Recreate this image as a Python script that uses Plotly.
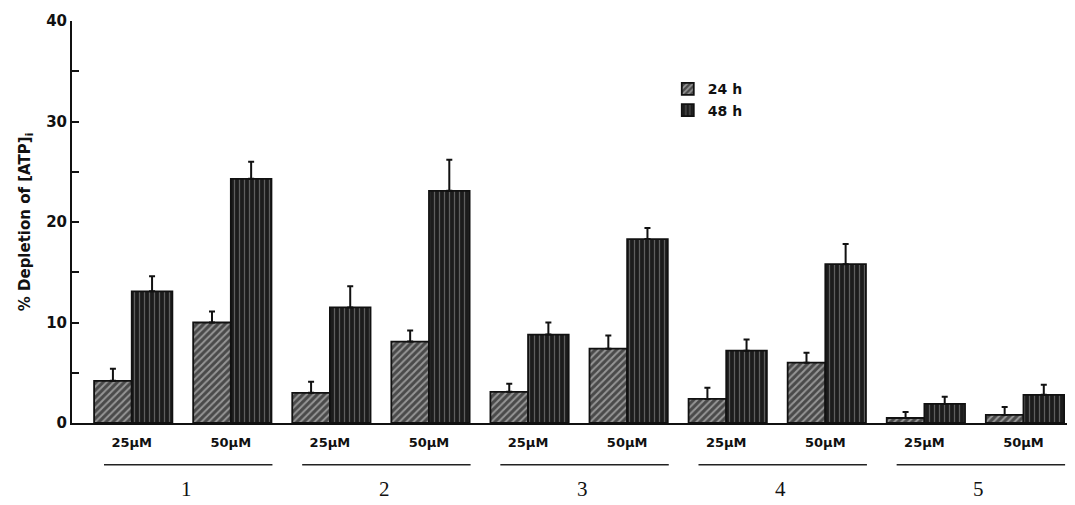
import plotly.graph_objects as go

# ---- data ----
compounds = ["1", "2", "3", "4", "5"]
concentrations = ["25\u00b5M", "50\u00b5M"]
# one value per (compound, concentration) pair, in order 1-25,1-50,2-25,...
atp_24h = [4.2, 10.0, 3.0, 8.1, 3.1, 7.4, 2.4, 6.0, 0.5, 0.8]
err_24h = [1.2, 1.1, 1.1, 1.1, 0.8, 1.3, 1.1, 1.0, 0.6, 0.8]
atp_48h = [13.1, 24.3, 11.5, 23.1, 8.8, 18.3, 7.2, 15.8, 1.9, 2.8]
err_48h = [1.5, 1.7, 2.1, 3.1, 1.2, 1.1, 1.1, 2.0, 0.7, 1.0]
series_names = ["24 h", "48 h"]

# positions of each pair (index based)
pos = list(range(len(atp_24h)))
tick_text = [concentrations[i % 2] for i in pos]

bar_w = 0.38

fig = go.Figure()
fig.add_trace(go.Bar(
    x=pos, y=atp_24h, name=series_names[0],
    width=bar_w, offset=-bar_w,
    marker=dict(color="white",
                line=dict(color="#111", width=1.8),
                pattern=dict(shape="/", fgcolor="#e2e2e2", bgcolor="#4a4a4a",
                             size=5, solidity=0.4)),
    error_y=dict(type="data", array=err_24h, arrayminus=[0]*len(err_24h),
                 symmetric=False, color="#111", thickness=2, width=3),
))
fig.add_trace(go.Bar(
    x=pos, y=atp_48h, name=series_names[1],
    width=bar_w + 0.03, offset=0,
    marker=dict(color="white",
                line=dict(color="#111", width=1.8),
                pattern=dict(shape="|", fgcolor="#a0a0a0", bgcolor="#1c1c1c",
                             size=5, solidity=0.25)),
    error_y=dict(type="data", array=err_48h, arrayminus=[0]*len(err_48h),
                 symmetric=False, color="#111", thickness=2, width=3),
))

# group underline + compound number
for g, name in enumerate(compounds):
    x0 = pos[2 * g] - 0.28
    x1 = pos[2 * g + 1] + 0.42
    fig.add_shape(type="line", xref="x", yref="paper",
                  x0=x0, x1=x1, y0=-0.104, y1=-0.104,
                  line=dict(color="#222", width=1.5))
    fig.add_annotation(x=pos[2 * g] + 0.55, y=-0.2, xref="x", yref="paper",
                       text=name, showarrow=False, yanchor="bottom",
                       font=dict(family="Liberation Serif", size=21, color="#111"))

# the page body adds an 8px margin, so the figure is sized to fill the rest
fig.update_layout(
    width=1067, height=497,
    margin=dict(l=64, r=0, t=13, b=82),
    paper_bgcolor="white", plot_bgcolor="white",
    barmode="overlay",
    showlegend=True,
    legend=dict(x=0.594, y=0.87, xanchor="left", yanchor="top",
                font=dict(family="DejaVu Sans", size=14, color="#111",
                          weight="bold"),
                bgcolor="rgba(0,0,0,0)", itemwidth=30, tracegroupgap=2),
    font=dict(family="DejaVu Sans", color="#111"),
)
fig.update_xaxes(
    range=[-0.603, 9.52], automargin=False,
    tickvals=pos, ticktext=tick_text,
    ticks="", showgrid=False, zeroline=False,
    showline=True, linecolor="#111", linewidth=2,
    tickfont=dict(family="DejaVu Sans", size=13, color="#111", weight="bold"),
    ticklabelstandoff=6,
)
fig.update_yaxes(
    range=[0, 40], automargin=False,
    tickvals=[0, 10, 20, 30, 40],
    ticks="inside", ticklen=7, tickwidth=2, tickcolor="#111",
    minor=dict(tickvals=[5, 15, 25, 35], ticks="inside", ticklen=7,
               tickwidth=2, tickcolor="#111"),
    showgrid=False, zeroline=False,
    showline=True, linecolor="#111", linewidth=2,
    tickfont=dict(family="DejaVu Sans", size=15, color="#111", weight="bold"),
    title=dict(text="% Depletion of [ATP]<sub>i</sub>",
               font=dict(family="DejaVu Sans", size=15, color="#111",
                         weight="bold"),
               standoff=12),
)

fig.write_html("out.html")
